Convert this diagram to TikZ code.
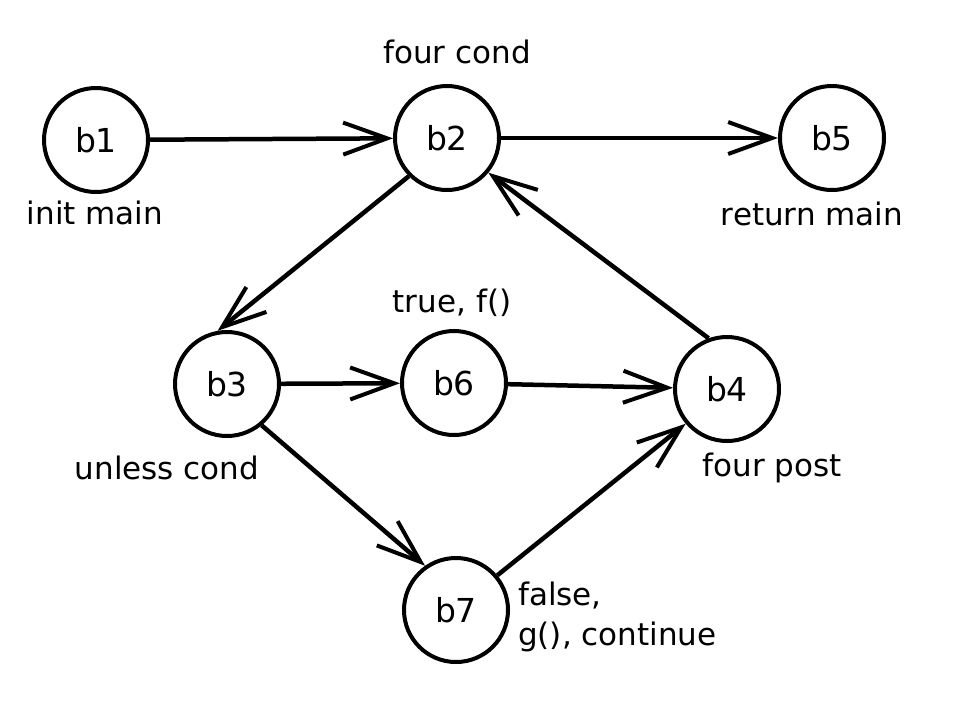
\documentclass[tikz,border=0pt]{standalone}
\usepackage{fontspec}
\setmainfont{DejaVu Sans}
\usetikzlibrary{arrows.meta}
\begin{document}
\begin{tikzpicture}[x=1pt,y=-1pt,
  blk/.style={circle,draw,line width=4pt,minimum size=104pt,inner sep=0pt,font=\fontsize{33}{36}\selectfont},
  lbl/.style={font=\fontsize{31}{40}\selectfont,inner sep=0pt},
  edge/.style={line width=4.5pt,-{Straight Barb[length=44pt,width=32pt,line width=4pt]}}]
\useasboundingbox (0,0) rectangle (960,710);
\node[blk] (b1) at (96,140) {b1};
\node[blk] (b2) at (447,138) {b2};
\node[blk] (b5) at (832,138) {b5};
\node[blk] (b3) at (227,384) {b3};
\node[blk] (b6) at (454,383) {b6};
\node[blk] (b4) at (727,389) {b4};
\node[blk] (b7) at (456,610) {b7};
\node[lbl] (l2) at (457,52) {four cond};
\node[lbl] (l1) at (95,213) {init main};
\node[lbl] (l5) at (812,214) {return main};
\node[lbl] (l6) at (452,303) {true, f()};
\node[lbl] (l3) at (167,468) {unless cond};
\node[lbl] (l4) at (772,468) {four post};
\node[lbl,align=left,anchor=west] (l7) at (518,617) {false,\\g(), continue};
\draw[edge] (b1) -- (b2);
\draw[edge] (b2) -- (b5);
\draw[edge] (b2.225) -- (b3.100);
\draw[edge] (b4.110) -- (b2.-40);
\draw[edge] (b3) -- (b6);
\draw[edge] (b6) -- (b4);
\draw[edge] (b3.-50) -- (b7.125);
\draw[edge] (b7.40) -- (b4.220);
\end{tikzpicture}
\end{document}
